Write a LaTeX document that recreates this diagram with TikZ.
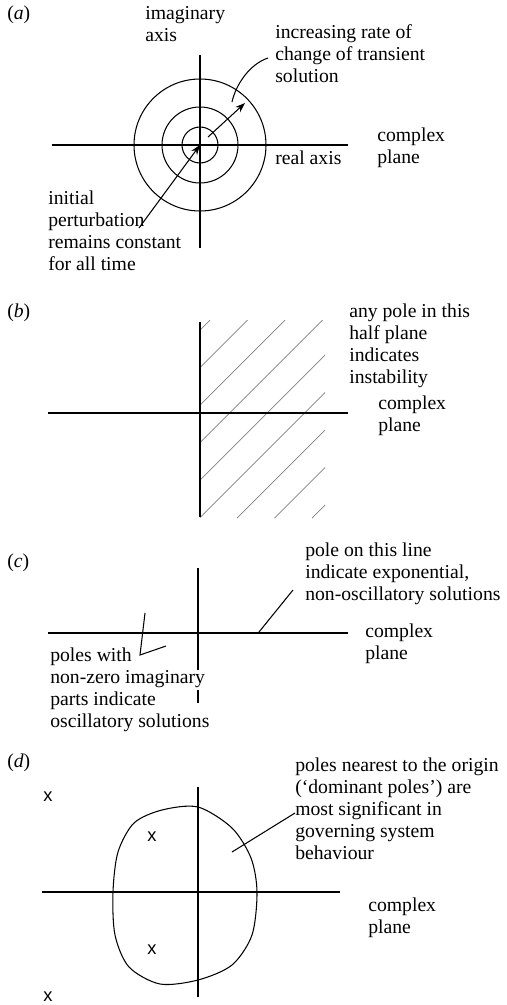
\documentclass[tikz,border=0pt]{standalone}
\usepackage{fontspec}
\setmainfont{Liberation Serif}
\setsansfont{Liberation Sans}
\usetikzlibrary{arrows.meta, positioning}

\begin{document}
\begin{tikzpicture}[x=0.025cm, y=-0.025cm, >={Stealth[length=7pt, width=5pt]},
    every node/.style={inner sep=0pt, font=\fontsize{14}{15.6}\selectfont},
    txt/.style={align=left, anchor=north west},
    tag/.style={anchor=west},
    axis/.style={line width=0.75pt},
    hatch/.style={gray, line width=0.5pt},
    pole/.style={font=\fontsize{13}{13}\sffamily}]
    \useasboundingbox (0,0) rectangle (506,1005);

    % (a) circles of constant rate
    \node[tag] (taga) at (7,15) {(\textit{a})};
    \coordinate (oa) at (200,145);
    \draw[axis] (200,55) -- (200,248);
    \draw[axis] (52,145) -- (348,145);
    \foreach \r in {18,38,66}
        \draw[axis] (oa) circle[radius=\r];
    \node[txt] (imag) at (145,6) {imaginary\\axis};
    \node[txt] (rate) at (275,24) {increasing rate of\\change of transient\\solution};
    \node[txt] (real) at (275,151) {real axis};
    \node[txt] (planea) at (377,128) {complex\\plane};
    \node[txt] (init) at (48,191) {initial\\perturbation\\remains constant\\for all time};
    \coordinate (a1) at (208,137);
    \coordinate (a2) at (245,103);
    \coordinate (a3) at (139,228);
    \coordinate (ratea) at (268,58);
    \coordinate (rateb) at (232,102);
    \draw[->, axis] (a1) -- (a2);
    \draw[->, axis] (a3) -- (oa);
    \draw[axis] (ratea) .. controls (250,64) and (236,84) .. (rateb);

    % (b) unstable half plane
    \node[tag] (tagb) at (7,313) {(\textit{b})};
    \begin{scope}
        \clip (200,320) rectangle (325,518);
        \foreach \c [evaluate=\c as \cc using 530+37.5*\c] in {0,...,8}
            \draw[hatch] ({\cc-518},518) -- ({\cc-320},320);
    \end{scope}
    \draw[axis] (200,322) -- (200,517);
    \draw[axis] (48,413) -- (348,413);
    \node[txt] (anyp) at (349,304) {any pole in this\\half plane\\indicates\\instability};
    \node[txt] (planeb) at (378,396) {complex\\plane};

    % (c) real axis poles
    \node[tag] (tagc) at (7,563) {(\textit{c})};
    \draw[axis] (198,568) -- (198,670);
    \draw[axis] (198,690) -- (198,703);
    \draw[axis] (48,633) -- (348,633);
    \node[txt] (poleon) at (305,543) {pole on this line\\indicate exponential,\\non-oscillatory solutions};
    \node[txt] (planec) at (365,624) {complex\\plane};
    \node[txt] (polesw) at (50,648) {poles with\\non-zero imaginary\\parts indicate\\oscillatory solutions};
    \coordinate (c1) at (259,632);
    \coordinate (c2) at (293,590);
    \coordinate (c3) at (145,613);
    \coordinate (c4) at (140,655);
    \coordinate (c5) at (166,646);
    \draw[axis] (c1) -- (c2);
    \draw[axis] (c3) -- (c4) -- (c5);

    % (d) dominant poles
    \node[tag] (tagd) at (7,763) {(\textit{d})};
    \draw[axis] (198,787) -- (198,997);
    \draw[axis] (42,892) -- (340,892);
    \draw[axis] plot[smooth cycle] coordinates {
        (198,807) (232,828) (251,858) (257,892) (252,935) (232,965)
        (198,980) (160,984) (129,967) (115,935) (113,892) (118,852)
        (134,823) (162,810)};
    \node[pole] (p1) at (48,797) {x};
    \node[pole] (p2) at (152,837) {x};
    \node[pole] (p3) at (152,950) {x};
    \node[pole] (p4) at (48,997) {x};
    \node[txt] (near) at (295,758) {poles nearest to the origin\\(‘dominant poles’) are\\most significant in\\governing system\\behaviour};
    \node[txt] (planed) at (368,898) {complex\\plane};
    \coordinate (d1) at (232,852);
    \coordinate (d2) at (295,813);
    \draw[axis] (d1) -- (d2);
\end{tikzpicture}
\end{document}
